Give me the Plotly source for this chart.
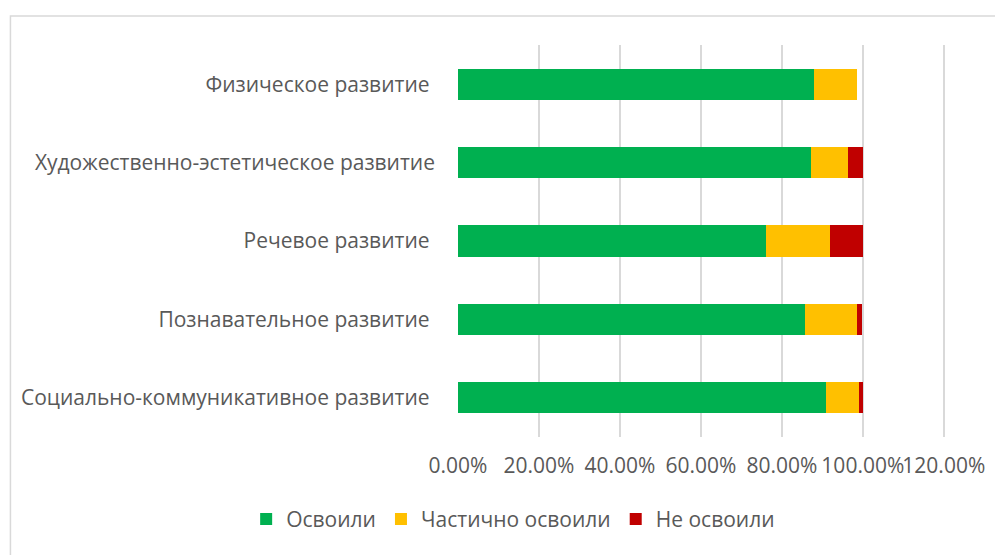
import plotly.graph_objects as go

categories = [
    "Физическое развитие\u00a0",
    "Художественно-эстетическое развитие",
    "Речевое развитие\u00a0",
    "Познавательное развитие\u00a0",
    "Социально-коммуникативное развитие\u00a0",
]
osvoili = [0.88, 0.872, 0.76, 0.857, 0.91]
chastichno = [0.105, 0.092, 0.16, 0.128, 0.08]
ne_osvoili = [0.0, 0.036, 0.08, 0.013, 0.01]

series_names = ["Освоили", "Частично освоили", "Не освоили"]
colors = ["#00B050", "#FFC000", "#C00000"]
tick_vals = [0, 0.2, 0.4, 0.6, 0.8, 1.0, 1.2]

FONT = "Open Sans"
TXT = "#595959"
FS = 21

fig = go.Figure()
for name, vals, col in zip(series_names, [osvoili, chastichno, ne_osvoili], colors):
    fig.add_trace(go.Bar(
        y=categories, x=vals, name=name, orientation="h",
        marker=dict(color=col, line=dict(width=0)),
    ))

fig.update_layout(
    barmode="stack",
    bargap=0.6,
    width=995, height=547,
    margin=dict(l=450, r=58, t=37, b=118),
    paper_bgcolor="white", plot_bgcolor="white",
    font=dict(family=FONT, size=FS, color=TXT),
    xaxis=dict(
        range=[0, 1.203], tickvals=tick_vals, tickformat=".2%",
        showgrid=True, gridcolor="#d9d9d9", gridwidth=1.5,
        zeroline=False, showline=False, ticks="", tickangle=0,
        ticklabelstandoff=14,
        tickfont=dict(family=FONT, size=FS, color=TXT),
    ),
    yaxis=dict(
        autorange="reversed", showgrid=False, showline=False, ticks="",
        ticklabelstandoff=22,
        tickfont=dict(family=FONT, size=FS, color=TXT),
    ),
    legend=dict(
        orientation="h", x=-0.435, xanchor="left", y=-0.21, yanchor="middle",
        font=dict(family=FONT, size=FS, color=TXT),
        itemwidth=30, traceorder="normal",
    ),
    shapes=[dict(
        type="rect", xref="paper", yref="paper",
        x0=-0.919, x1=1.3, y0=-0.5, y1=1.074,
        line=dict(color="#d9d9d9", width=1.5), fillcolor="rgba(0,0,0,0)",
        layer="below",
    )],
)

fig.write_html("out.html")
